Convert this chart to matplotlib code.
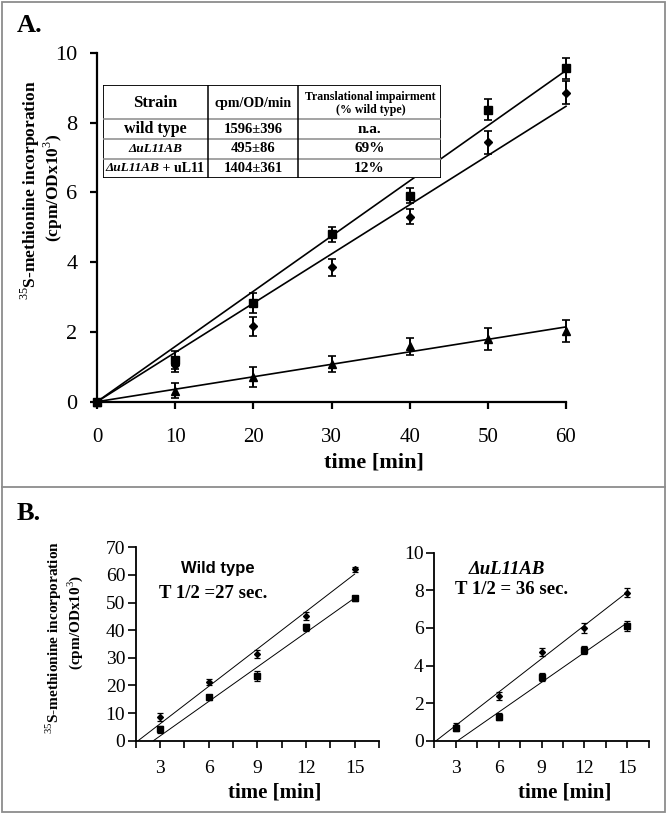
import numpy as np
import matplotlib
matplotlib.use("Agg")
import matplotlib.pyplot as plt
from matplotlib.patches import Rectangle
from matplotlib.lines import Line2D

plt.rcParams['font.family'] = ['Liberation Serif', 'DejaVu Serif']
plt.rcParams['mathtext.fontset'] = 'custom'
plt.rcParams['mathtext.rm'] = 'Liberation Serif'
plt.rcParams['mathtext.bf'] = 'Liberation Serif:bold'

# ---------------- data: panel A ----------------
time_A = [0, 10, 20, 30, 40, 50, 60]
wt_A = [0, 1.19, 2.83, 4.80, 5.90, 8.36, 9.55]
wt_A_err = [0, 0.25, 0.29, 0.22, 0.22, 0.30, 0.31]
resc_A = [0, 1.06, 2.16, 3.85, 5.30, 7.43, 8.85]
resc_A_err = [0, 0.20, 0.27, 0.24, 0.22, 0.33, 0.33]
del_A = [0, 0.32, 0.70, 1.08, 1.59, 1.80, 2.03]
del_A_err = [0, 0.22, 0.29, 0.24, 0.24, 0.32, 0.32]
xticks_A = [0, 10, 20, 30, 40, 50, 60]
yticks_A = [0, 2, 4, 6, 8, 10]

# table
tab_header = ["Strain", "cpm/OD/min", "Translational impairment\n(% wild type)"]
tab_strain = ["wild type", "\u0394uL11AB", "\u0394uL11AB"]
tab_rate = ["1596\u00b1396", "495\u00b186", "1404\u00b1361"]
tab_impair = ["n.a.", "69%", "12%"]

# ---------------- data: panel B ----------------
time_B = [3, 6, 9, 12, 15]
wt_B_up = [8.7, 21.4, 31.4, 45.1, 62.0]
wt_B_up_err = [1.5, 1.1, 1.6, 1.5, 1.0]
wt_B_lo = [4.1, 15.7, 23.5, 41.0, 51.5]
wt_B_lo_err = [1.4, 0.8, 1.8, 1.2, 0.9]
del_B_up = [0.78, 2.39, 4.70, 6.01, 7.87]
del_B_up_err = [0.15, 0.22, 0.22, 0.27, 0.24]
del_B_lo = [0.69, 1.28, 3.39, 4.82, 6.10]
del_B_lo_err = [0.15, 0.18, 0.22, 0.22, 0.27]
xticks_B = [3, 6, 9, 12, 15]
xminor_B = [1.5, 4.5, 7.5, 10.5, 13.5, 16.5]
yticks_B_wt = [0, 10, 20, 30, 40, 50, 60, 70]
yticks_B_del = [0, 2, 4, 6, 8, 10]

W, H = 669, 824
fig = plt.figure(figsize=(W / 100, H / 100), dpi=100)


def fx(x):
    return x / W


def fy(y):
    return 1 - y / H


# frame
fig.add_artist(Rectangle((fx(1.5), fy(812)), fx(665) - fx(1.5), fy(1.5) - fy(812),
                         transform=fig.transFigure, fill=False, ec='#8c8c8c', lw=1.3))
fig.add_artist(Line2D([fx(1.5), fx(665)], [fy(487), fy(487)], transform=fig.transFigure,
                      color='#8c8c8c', lw=1.3))

# ---------------- panel A ----------------
axA = fig.add_axes([fx(97), fy(401.7), (566 - 97) / W, (401.7 - 52.7) / H])
axA.set_xlim(0, 60)
axA.set_ylim(0, 10)
t = np.array(time_A, dtype=float)
for vals, err, mk, ms in [(wt_A, wt_A_err, 's', 5.2), (resc_A, resc_A_err, 'D', 4.3),
                          (del_A, del_A_err, '^', 6)]:
    y = np.array(vals)
    slope = np.sum(t * y) / np.sum(t * t)
    xx = np.array([t[0], t[-1]])
    axA.plot(xx, slope * xx, color='black', lw=1.2, clip_on=False, zorder=2)
    axA.errorbar(t, y, yerr=err, fmt=mk, ms=ms, color='black', ecolor='black',
                 elinewidth=1.4, capsize=3, capthick=1.2, clip_on=False, zorder=3)
for s in ['top', 'right']:
    axA.spines[s].set_visible(False)
for s in ['left', 'bottom']:
    axA.spines[s].set_linewidth(1.6)
axA.set_xticks(xticks_A)
axA.set_yticks(yticks_A)
axA.tick_params(axis='x', direction='out', length=5, width=1.6, labelsize=15, pad=14)
axA.tick_params(axis='y', direction='out', length=5, width=1.6, labelsize=16, pad=9)
fig.text(fx(374), fy(463), "time [min]", fontsize=16, fontweight='bold', ha='center', va='center')
fig.text(fx(30), fy(190), r"$^{35}$S-methionine incorporation", fontsize=12.5, fontweight='bold',
         rotation=90, ha='center', va='center')
fig.text(fx(53), fy(188), r"(cpm/ODx10$^{3}$)", fontsize=12.5, fontweight='bold',
         rotation=90, ha='center', va='center')
fig.text(fx(17), fy(25), "A.", fontsize=19, fontweight='bold', ha='left', va='center')

# table
tx0, tx1, ty0, ty1 = 103, 441, 85, 178.3
tab = fig.add_axes([fx(tx0), fy(ty1), (tx1 - tx0) / W, (ty1 - ty0) / H])
tab.set_xlim(tx0, tx1)
tab.set_ylim(ty1, ty0)
tab.axis('off')
tab.patch.set_visible(False)
axA.add_artist(Rectangle((fx(tx0), fy(ty1)), (tx1 - tx0) / W, (ty1 - ty0) / H,
                         transform=fig.transFigure, fc='white', ec='none', zorder=4))
tab.set_zorder(5)
cols = [tx0, 208, 298, tx1]
rows = [ty0, 119.3, 138.9, 158.6, ty1]
for yy in rows[1:-1]:
    tab.plot([tx0, tx1], [yy, yy], color='#8a8a8a', lw=1.1)
for xx in cols[1:-1]:
    tab.plot([xx, xx], [ty0, ty1], color='black', lw=1.1)
tab.add_patch(Rectangle((tx0, ty0), tx1 - tx0, ty1 - ty0, fill=False, ec='black', lw=1.3))
cx = [(cols[i] + cols[i + 1]) / 2 for i in range(3)]
cy = [(rows[i] + rows[i + 1]) / 2 for i in range(4)]
tab.text(cx[0], cy[0] + 1, tab_header[0], fontsize=12, fontweight='bold', ha='center', va='center')
tab.text(cx[1], cy[0] + 1, tab_header[1], fontsize=10, fontweight='bold', ha='center', va='center')
tab.text(cx[2] + 1, cy[0] + 1, tab_header[2], fontsize=8.6, fontweight='bold', ha='center',
         va='center', linespacing=1.1)
tab.text(cx[0], cy[1], tab_strain[0], fontsize=11.5, fontweight='bold', ha='center', va='center')
tab.text(cx[0], cy[2], tab_strain[1], fontsize=9.5, fontweight='bold', style='italic',
         ha='center', va='center')
t1 = tab.text(tx0 + 2, cy[3], tab_strain[2], fontsize=9.5, fontweight='bold', style='italic',
              ha='left', va='center')
tab.annotate(" + uL11", xy=(1, 0.5), xycoords=t1, fontsize=10, fontweight='bold',
             ha='left', va='center')
for i in range(3):
    tab.text(cx[1], cy[i + 1], tab_rate[i], fontsize=10.5, fontweight='bold', ha='center', va='center')
    tab.text(cx[2], cy[i + 1], tab_impair[i], fontsize=11, fontweight='bold', ha='center', va='center')

# ---------------- panel B ----------------
def panelB(rect, up, up_err, lo, lo_err, ylim, yticks):
    ax = fig.add_axes(rect)
    ax.set_xlim(1.5, 16.5)
    ax.set_ylim(*ylim)
    x = np.array(time_B, dtype=float)
    for vals, err, mk, ms in [(up, up_err, 'D', 3.0), (lo, lo_err, 's', 4.0)]:
        y = np.array(vals)
        a, b = np.polyfit(x[1:], y[1:], 1)
        xs = np.array([-b / a, x[-1]])
        ax.plot(xs, a * xs + b, color='black', lw=0.7, zorder=2)
        ax.errorbar(x, y, yerr=err, fmt=mk, ms=ms, color='black', ecolor='black',
                    elinewidth=1.0, capsize=2, capthick=0.9, zorder=3)
    for s in ['top', 'right']:
        ax.spines[s].set_visible(False)
    for s in ['left', 'bottom']:
        ax.spines[s].set_linewidth(1.3)
    ax.set_xticks(xticks_B)
    ax.set_xticks(xminor_B, minor=True)
    ax.set_yticks(yticks)
    ax.tick_params(axis='x', which='both', direction='out', length=5, width=1.2,
                   labelsize=14, pad=9)
    ax.tick_params(axis='y', direction='out', length=5.5, width=1.2, labelsize=14, pad=2)
    return ax


axB1 = panelB([fx(135.7), fy(740.7), (379 - 135.7) / W, (740.7 - 547.3) / H],
              wt_B_up, wt_B_up_err, wt_B_lo, wt_B_lo_err, (0, 70), yticks_B_wt)
axB2 = panelB([fx(434.2), fy(740.7), (648.8 - 434.2) / W, (740.7 - 552.7) / H],
              del_B_up, del_B_up_err, del_B_lo, del_B_lo_err, (0, 10), yticks_B_del)

fig.text(fx(218), fy(569), "Wild type", fontsize=12, fontweight='bold',
         family=['Liberation Sans', 'DejaVu Sans'], ha='center', va='center')
fig.text(fx(213), fy(593), "T 1/2 =27 sec.", fontsize=13.5, fontweight='bold', ha='center', va='center')
fig.text(fx(507), fy(570), "\u0394uL11AB", fontsize=13.5, fontweight='bold', style='italic',
         ha='center', va='center')
fig.text(fx(512), fy(590), "T 1/2 = 36 sec.", fontsize=13.5, fontweight='bold', ha='center', va='center')

fig.text(fx(275), fy(792), "time [min]", fontsize=15, fontweight='bold', ha='center', va='center')
fig.text(fx(565), fy(793), "time [min]", fontsize=15, fontweight='bold', ha='center', va='center')
fig.text(fx(54), fy(637), r"$^{35}$S-methionine incorporation", fontsize=11, fontweight='bold',
         rotation=90, ha='center', va='center')
fig.text(fx(75), fy(622), r"(cpm/ODx10$^{3}$)", fontsize=11, fontweight='bold',
         rotation=90, ha='center', va='center')
fig.text(fx(17), fy(514), "B.", fontsize=19, fontweight='bold', ha='left', va='center')

fig.savefig("out.png", dpi=100)
